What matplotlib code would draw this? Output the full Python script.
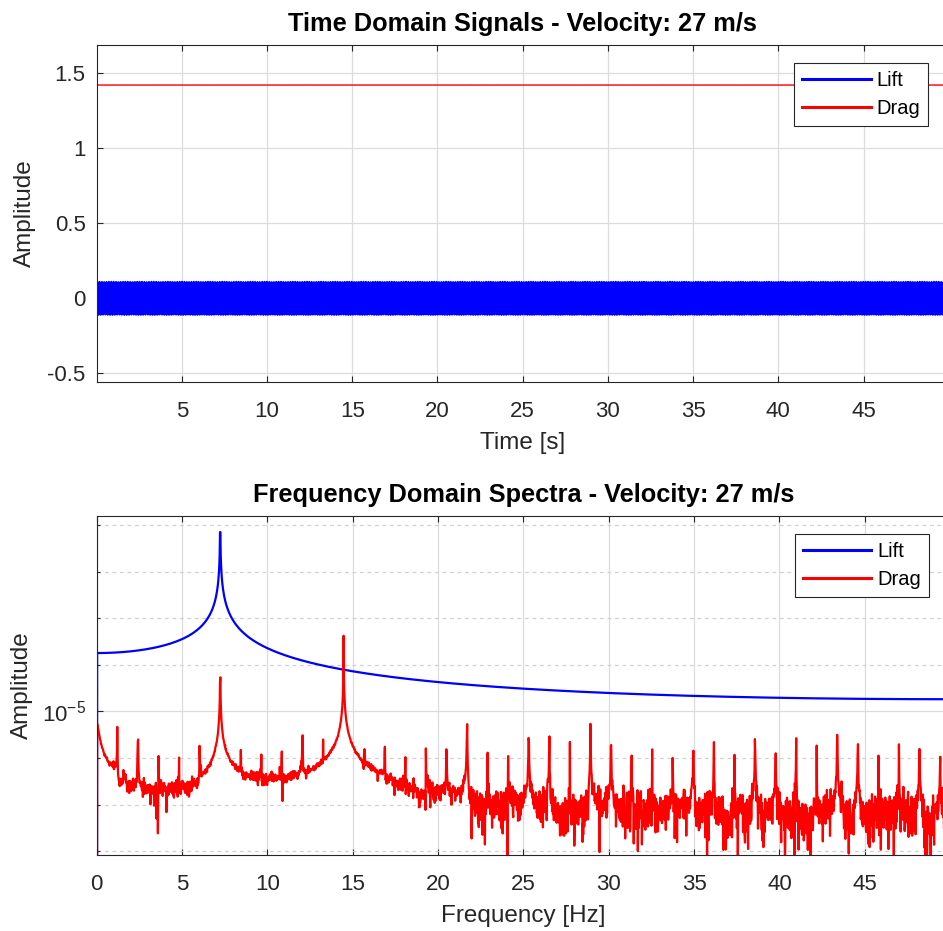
"""
Lift / drag signals at one tunnel velocity: time traces and one-sided FFT spectra.
"""

import numpy as np
import matplotlib
matplotlib.use('Agg')
import matplotlib.pyplot as plt
from matplotlib.ticker import FixedLocator, NullFormatter, LogFormatterSciNotation

# --- signal settings ---
VELOCITY = 27
FS = 100.0          # Hz
DURATION = 50.0     # s

LIFT_AMP = 0.11
LIFT_FREQ = 7.23    # Hz, shedding frequency
LIFT_PHASE = 0.19   # rad

DRAG_MEAN = 1.422
DRAG_SETTLE_AMP = 8.6e-5   # start-up offset that decays away
DRAG_SETTLE_TAU = 1.6      # s
DRAG_RESOLUTION = 1.0e-5   # balance step size

# drag components sit on multiples of a base frequency
DRAG_BASE_FREQ = 1.2052
DRAG_ORDERS = list(range(1, 42))
DRAG_PEAKS = [4.3e-6, 2.4e-6, 8.9e-7, 8.3e-7, 2.1e-6, 5.4e-5, 1.6e-6, 1.0e-6,
              1.0e-6, 3.1e-6, 1.9e-6, 4.2e-4, 1.6e-6, 1.9e-6, 1.3e-6, 1.9e-6,
              1.6e-6, 5.5e-6, 1.5e-6, 1.1e-6, 2.7e-6, 3.0e-6, 2.4e-6, 5.5e-6,
              1.8e-6, 1.1e-6, 1.7e-6, 1.1e-6, 1.5e-6, 2.3e-6, 1.2e-6, 2.6e-6,
              1.2e-6, 2.8e-6, 1.7e-6, 3.1e-6, 2.0e-6, 1.3e-6, 1.9e-6, 1.5e-6,
              1.0e-6]
DRAG_ANTIPHASE = [6]       # orders that run opposite to the rest

# --- style ---
DPI = 100
FIG_W, FIG_H = 943, 931
FONT = 'Liberation Sans'
TICK_SIZE = 16
LABEL_SIZE = 17.5
TITLE_SIZE = 18.3
LEGEND_SIZE = 14.5
AX_COLOR = '#262626'
GRID_COLOR = '#dcdcdc'

plt.rcParams['font.family'] = [FONT, 'DejaVu Sans']
plt.rcParams['mathtext.fontset'] = 'custom'
plt.rcParams['mathtext.rm'] = FONT


def amp_spectrum(x):
    n = len(x)
    X = np.fft.fft(x - np.mean(x))
    freq = np.arange(n // 2) * FS / n
    return freq, 2.0 * np.abs(X[:n // 2]) / n


def style_axes(ax):
    for sp in ax.spines.values():
        sp.set_color(AX_COLOR)
        sp.set_linewidth(0.8)
    ax.tick_params(which='both', direction='in', top=True, right=True,
                   colors=AX_COLOR, labelcolor=AX_COLOR, labelsize=TICK_SIZE)
    ax.tick_params(which='major', length=4, width=0.8)
    ax.tick_params(axis='x', pad=14)
    ax.tick_params(axis='y', pad=8)
    ax.grid(True, which='major', color=GRID_COLOR, linewidth=0.9, linestyle='-')
    ax.set_axisbelow(True)


def add_legend(ax, y_anchor):
    leg = ax.legend(loc='upper right', bbox_to_anchor=(0.976, y_anchor),
                    borderaxespad=0, fontsize=LEGEND_SIZE, fancybox=False,
                    framealpha=1, edgecolor=AX_COLOR, handlelength=3.4,
                    handletextpad=0.3, labelspacing=0.45, borderpad=0.4)
    leg.get_frame().set_linewidth(0.8)
    for line in leg.get_lines():
        line.set_linewidth(2.2)
    return leg


# --- signals ---
n = int(FS * DURATION)
t = np.arange(1, n + 1) / FS
lift = LIFT_AMP * np.sin(2 * np.pi * LIFT_FREQ * t + LIFT_PHASE)

drag = DRAG_MEAN + DRAG_SETTLE_AMP * np.exp(-t / DRAG_SETTLE_TAU)
for k, peak in zip(DRAG_ORDERS, DRAG_PEAKS):
    f = k * DRAG_BASE_FREQ
    off_bin = abs(f * n / FS - round(f * n / FS))
    sign = -1.0 if k in DRAG_ANTIPHASE else 1.0
    drag = drag + sign * peak / np.sinc(off_bin) * np.sin(2 * np.pi * f * t)
# the balance reports drag in discrete steps
drag = np.round(drag / DRAG_RESOLUTION) * DRAG_RESOLUTION

freq, lift_spec = amp_spectrum(lift)
_, drag_spec = amp_spectrum(drag)

# --- figure ---
fig = plt.figure(figsize=(FIG_W / DPI, FIG_H / DPI), dpi=DPI)
ax1 = fig.add_axes([96.8 / FIG_W, 1 - 381.7 / FIG_H, 852 / FIG_W, 336.7 / FIG_H])
ax2 = fig.add_axes([96.8 / FIG_W, 1 - 855 / FIG_H, 853 / FIG_W, 339 / FIG_H])

# time domain
ax1.plot(t, lift, color='#0000ff', linewidth=1.5, label='Lift')
ax1.plot(t, drag, color='#ff0000', linewidth=1.0, label='Drag')
ax1.set_xlim(t[0], t[-1])
ax1.set_ylim(-0.556, 1.689)
ax1.set_xticks(np.arange(5, 50, 5))
ax1.set_yticks([-0.5, 0, 0.5, 1, 1.5])
ax1.set_yticklabels(['-0.5', '0', '0.5', '1', '1.5'])
style_axes(ax1)
ax1.set_xlabel('Time [s]', fontsize=LABEL_SIZE, color=AX_COLOR, labelpad=7)
ax1.set_ylabel('Amplitude', fontsize=LABEL_SIZE, color=AX_COLOR)
ax1.yaxis.set_label_coords(-0.071, 0.5)
ax1.set_title(f'Time Domain Signals - Velocity: {VELOCITY} m/s',
              fontsize=TITLE_SIZE, fontweight='bold', color='black', pad=10)
add_legend(ax1, 0.947)

# frequency domain
ax2.semilogy(freq, lift_spec, color='#0000ff', linewidth=1.6, label='Lift')
ax2.semilogy(freq, drag_spec, color='#ff0000', linewidth=1.6, label='Drag')
ax2.set_xlim(0, freq[-1])
ax2.set_ylim(10 ** -8.077, 10 ** -0.81)
ax2.set_xticks(np.arange(0, 50, 5))
ax2.yaxis.set_major_locator(FixedLocator([1e-5]))
ax2.yaxis.set_major_formatter(LogFormatterSciNotation())
minor_decades = [10.0 ** p for p in range(-8, 0) if p != -5]
ax2.yaxis.set_minor_locator(FixedLocator(minor_decades))
ax2.yaxis.set_minor_formatter(NullFormatter())
style_axes(ax2)
ax2.tick_params(axis='y', which='minor', length=2.5, width=0.8)
ax2.grid(True, which='minor', axis='y', color='#d0d0d0', linewidth=0.9,
         linestyle=(0, (3, 3)))
ax2.set_xlabel('Frequency [Hz]', fontsize=LABEL_SIZE, color=AX_COLOR, labelpad=7)
ax2.set_ylabel('Amplitude', fontsize=LABEL_SIZE, color=AX_COLOR)
ax2.yaxis.set_label_coords(-0.075, 0.5)
ax2.set_title(f'Frequency Domain Spectra - Velocity: {VELOCITY} m/s',
              fontsize=TITLE_SIZE, fontweight='bold', color='black', pad=10)
add_legend(ax2, 1 - (534 - 516) / 339)

fig.savefig('out.png', dpi=DPI)
